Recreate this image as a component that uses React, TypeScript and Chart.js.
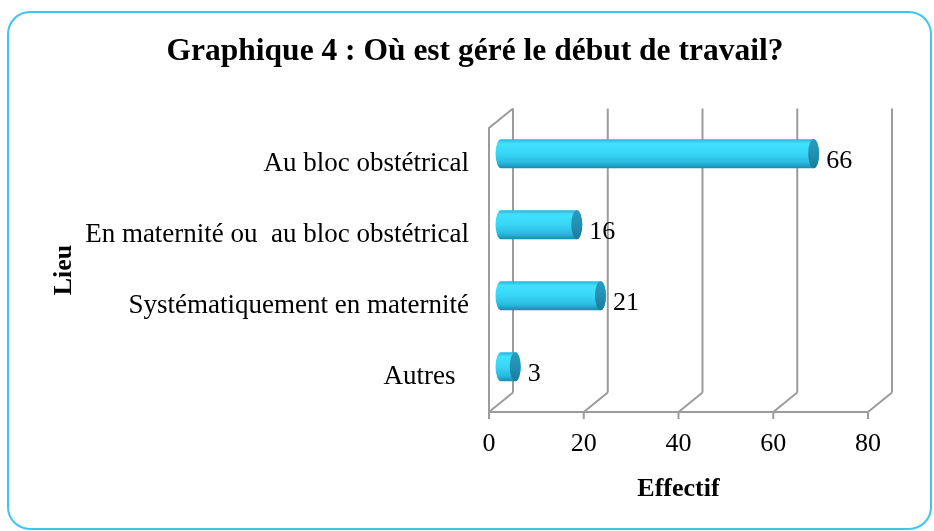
import { useEffect, useRef } from "react";
import { Chart, registerables } from "chart.js";

Chart.register(...registerables);

const categories = [
  "Au bloc obstétrical",
  "En maternité ou  au bloc obstétrical",
  "Systématiquement en maternité",
  "Autres  ",
];
const values = [66, 16, 21, 3];
const xTicks = [0, 20, 40, 60, 80];
const titleText = "Graphique 4 : Où est géré le début de travail?";
const xTitle = "Effectif";
const yTitle = "Lieu";

const FONT = "'Liberation Serif', 'Times New Roman', serif";
const DX = 24;
const DY = -19.5;

const decoPlugin = {
  id: "deco3d",
  beforeDraw(chart: any) {
    const { ctx } = chart;
    ctx.save();
    ctx.fillStyle = "#ffffff";
    ctx.fillRect(0, 0, chart.width, chart.height);
    ctx.strokeStyle = "#3cc6f2";
    ctx.lineWidth = 2;
    ctx.beginPath();
    ctx.roundRect(8, 12, 923, 517, 22);
    ctx.stroke();
    ctx.fillStyle = "#000";
    ctx.font = `bold 31.5px ${FONT}`;
    ctx.textAlign = "center";
    ctx.textBaseline = "middle";
    ctx.fillText(titleText, 475, 52);
    ctx.restore();
  },
  beforeDatasetsDraw(chart: any) {
    const { ctx, chartArea: a } = chart;
    const x = chart.scales.x;
    ctx.save();
    ctx.strokeStyle = "#9c9c9c";
    ctx.lineWidth = 2;
    ctx.beginPath();
    for (const v of xTicks) {
      const px = x.getPixelForValue(v);
      ctx.moveTo(px + DX, a.top + DY);
      ctx.lineTo(px + DX, a.bottom + DY);
      ctx.moveTo(px, a.bottom);
      ctx.lineTo(px + DX, a.bottom + DY);
      ctx.moveTo(px, a.bottom);
      ctx.lineTo(px, a.bottom + 7);
    }
    ctx.moveTo(a.left, a.bottom);
    ctx.lineTo(a.right, a.bottom);
    ctx.moveTo(a.left, a.bottom);
    ctx.lineTo(a.left, a.top);
    ctx.lineTo(a.left + DX, a.top + DY);
    ctx.stroke();
    ctx.restore();
  },
  afterDatasetsDraw(chart: any) {
    const { ctx } = chart;
    const meta = chart.getDatasetMeta(0);
    ctx.save();
    meta.data.forEach((bar: any, i: number) => {
      const p = bar.getProps(["x", "y", "base", "height"], true);
      const x0 = p.base + DX / 2;
      const x1 = p.x + DX / 2;
      const cy = p.y + DY / 2;
      const h = p.height;
      const ry = h / 2;
      const rx = 5.5;
      const top = cy - ry;
      const bottom = cy + ry;
      const g = ctx.createLinearGradient(0, top, 0, bottom);
      g.addColorStop(0, "#27b3d9");
      g.addColorStop(0.15, "#40e2ff");
      g.addColorStop(0.5, "#38d6f6");
      g.addColorStop(0.8, "#2bbbe0");
      g.addColorStop(1, "#178cb0");
      ctx.fillStyle = g;
      ctx.beginPath();
      ctx.moveTo(x1, top);
      ctx.lineTo(x0, top);
      ctx.ellipse(x0, cy, rx, ry, 0, -Math.PI / 2, Math.PI / 2, true);
      ctx.lineTo(x1, bottom);
      ctx.ellipse(x1, cy, rx, ry, 0, Math.PI / 2, -Math.PI / 2, true);
      ctx.closePath();
      ctx.fill();
      const gc = ctx.createLinearGradient(0, top, 0, bottom);
      gc.addColorStop(0, "#2a9bbd");
      gc.addColorStop(0.5, "#2290b2");
      gc.addColorStop(1, "#1a7c9c");
      ctx.fillStyle = gc;
      ctx.beginPath();
      ctx.ellipse(x1, cy, rx, ry, 0, 0, Math.PI * 2);
      ctx.fill();
      ctx.fillStyle = "#000";
      ctx.font = `26px ${FONT}`;
      ctx.textAlign = "left";
      ctx.textBaseline = "middle";
      ctx.fillText(String(values[i]), x1 + rx + 7, cy + 7);
    });
    ctx.restore();
  },
};

export default function App() {
  const ref = useRef<HTMLCanvasElement | null>(null);
  useEffect(() => {
    if (!ref.current) return;
    const chart = new Chart(ref.current, {
      type: "bar",
      data: {
        labels: categories,
        datasets: [
          {
            data: values,
            backgroundColor: "rgba(0,0,0,0)",
            borderWidth: 0,
            barPercentage: 0.41,
            categoryPercentage: 1,
          },
        ],
      },
      options: {
        indexAxis: "y",
        responsive: false,
        animation: false,
        layout: { padding: { left: 0, right: 66, top: 128, bottom: 0 } },
        plugins: {
          legend: { display: false },
          title: { display: false },
          tooltip: { enabled: false },
        },
        scales: {
          x: {
            type: "linear",
            min: 0,
            max: 80,
            ticks: {
              stepSize: 20,
              color: "#000",
              font: { family: FONT, size: 26 },
              padding: 17,
            },
            grid: { display: false, drawTicks: false },
            border: { display: false },
            title: {
              display: true,
              text: xTitle,
              color: "#000",
              font: { family: FONT, size: 26, weight: "bold" },
              padding: { top: 0, bottom: 26 },
            },
            afterFit: (s: any) => {
              s.height = 119;
            },
          },
          y: {
            ticks: {
              color: "#000",
              font: { family: FONT, size: 27 },
              padding: 20,
            },
            grid: { display: false, drawTicks: false },
            border: { display: false },
            title: {
              display: true,
              text: yTitle,
              color: "#000",
              font: { family: FONT, size: 26, weight: "bold" },
              padding: { top: 49, bottom: 0 },
            },
            afterFit: (s: any) => {
              s.width = 489;
            },
          },
        },
      },
      plugins: [decoPlugin],
    });
    return () => chart.destroy();
  }, []);
  return (
    <div style={{ position: "fixed", left: 0, top: 0, width: 934, height: 531 }}>
      <canvas ref={ref} width={934} height={531} style={{ display: "block" }} />
    </div>
  );
}
